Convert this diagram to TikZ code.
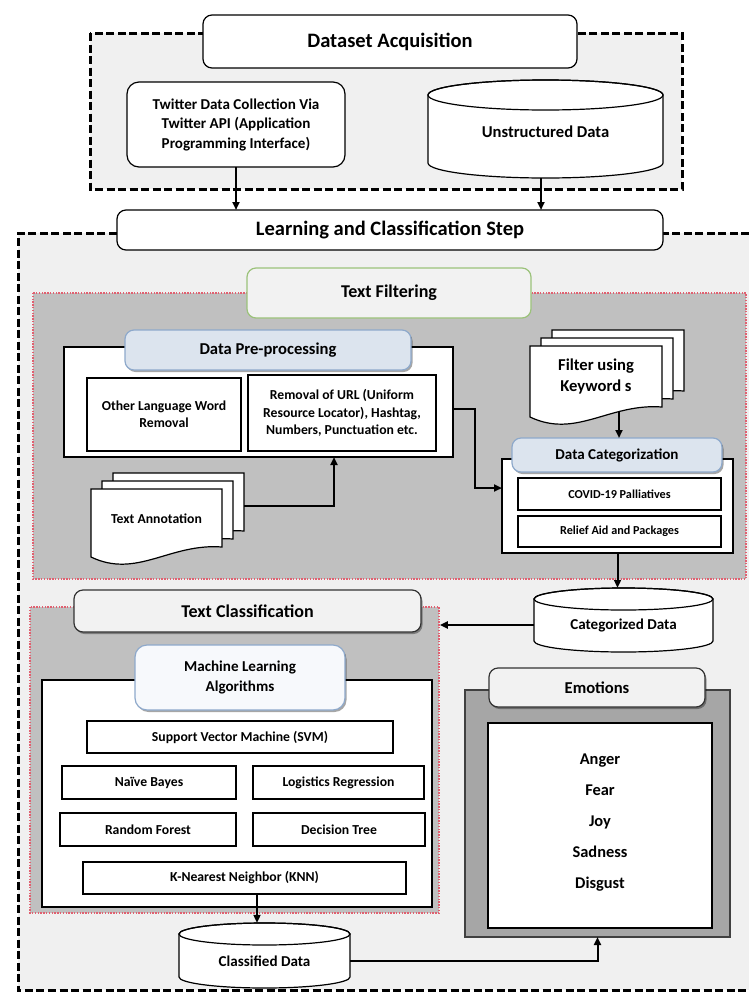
\documentclass[tikz,border=0pt]{standalone}
\usepackage{fontspec}
\setmainfont{Carlito}
\usetikzlibrary{arrows.meta,shadows}
\definecolor{lightbg}{HTML}{F0F0F0}
\definecolor{midgray}{HTML}{C0C0C0}
\definecolor{emogray}{HTML}{A6A6A6}
\definecolor{titlefill}{HTML}{F2F2F2}
\definecolor{bluefill}{HTML}{DCE4EE}
\definecolor{mlfill}{HTML}{F7F9FC}
\definecolor{blueline}{HTML}{8EA9CB}
\definecolor{greenline}{HTML}{9BC27A}
\definecolor{reddot}{HTML}{E06070}
\newcommand\cylshape[5]{%
  \filldraw[fill=white,draw=black,line width=1.2pt]
    (#1,#2+#5) -- (#1,#4-#5) arc[start angle=180,end angle=0,x radius={(#3-#1)/2},y radius=#5]
    -- (#3,#2+#5) arc[start angle=0,end angle=-180,x radius={(#3-#1)/2},y radius=#5] -- cycle;
  \draw[line width=1.2pt] ({(#1+#3)/2},#2+#5) ellipse[x radius={(#3-#1)/2},y radius=#5];
}
\newcommand\docshape[4]{%
  \filldraw[fill=white,draw=black,line width=1.2pt]
   (#1,#2) -- (#1+#3,#2) -- (#1+#3,#2+#4-10) .. controls (#1+0.6*#3,#2+#4-14) and (#1+0.35*#3,#2+#4+22) .. (#1,#2+#4) -- cycle;
}
\begin{document}
\begin{tikzpicture}[x=1pt,y=-1pt,
  fa/.style={font=\fontsize{20.5}{24}\selectfont\bfseries},
  fb/.style={font=\fontsize{18}{22}\selectfont\bfseries},
  fc/.style={font=\fontsize{16.6}{21}\selectfont\bfseries},
  fd/.style={font=\fontsize{15.1}{19.5}\selectfont\bfseries},
  fe/.style={font=\fontsize{13.7}{17.2}\selectfont\bfseries},
  ff/.style={font=\fontsize{12.2}{15}\selectfont\bfseries},
  femo/.style={font=\fontsize{16.4}{31}\selectfont\bfseries},
  plain/.style={draw=black,line width=1.2pt,fill=white,inner sep=0pt,outer sep=0pt,align=center},
  rtitle/.style={plain,rounded corners=9pt},
  shad/.style={drop shadow={shadow xshift=1.5pt,shadow yshift=-2pt,opacity=0.35,fill=black}},
  dashline/.style={line width=3pt,dash pattern=on 8pt off 3.5pt},
  dotline/.style={draw=reddot,line width=1.4pt,dash pattern=on 1.4pt off 1.4pt},
  conn/.style={line width=2pt,-{Triangle[length=8pt,width=7pt]}},
]
\useasboundingbox (0,0) rectangle (749,994);
\fill[white] (0,0) rectangle (749,994);
% big learning region
\fill[lightbg] (18,233) rectangle (749,990);
\draw[dashline] (749,233) -- (18,233) -- (18,990) -- (749,990);
% dataset acquisition region
\filldraw[fill=lightbg,dashline] (90,33) rectangle (682,189);
\node[rtitle,fa,minimum width=374pt,minimum height=53pt] (dsa) at (390,41.5) {Dataset Acquisition};
\node[rtitle,fd,rounded corners=12pt,minimum width=218pt,minimum height=85pt] (tw) at (236,124.5) {Twitter Data Collection Via\\Twitter API (Application\\Programming Interface)};
\cylshape{428}{80}{663}{178}{15}
\node[fc,inner sep=0pt,minimum width=235pt,minimum height=104pt] (ud) at (545.5,132) {Unstructured Data};
\node[rtitle,fa,minimum width=546pt,minimum height=40pt] (lcs) at (390,230) {Learning and Classification Step};
\draw[conn] (tw.south) -- (tw.south |- lcs.north);
\coordinate (udb) at (541,178);
\draw[conn] (udb) -- (udb |- lcs.north);
% text filtering region
\filldraw[fill=midgray,dotline] (33,293) rectangle (746,579);
\node[rtitle,fb,fill=titlefill,draw=greenline,minimum width=284pt,minimum height=50pt] (tf) at (389,293) {Text Filtering};
\node[plain,minimum width=389pt,minimum height=110pt] (dpo) at (258.5,402) {};
\node[rtitle,shad,fc,fill=bluefill,draw=blueline,minimum width=286pt,minimum height=40pt] (dpt) at (268,350) {Data Pre-processing};
\node[plain,fe,minimum width=154pt,minimum height=73pt] (olw) at (164,414.5) {Other Language Word\\Removal};
\node[plain,fe,minimum width=188pt,minimum height=76pt] (rem) at (342,413) {Removal of URL (Uniform\\Resource Locator), Hashtag,\\Numbers, Punctuation etc.};
% filter docs
\docshape{552}{330}{132}{71}
\docshape{541}{338}{132}{71}
\docshape{530}{346}{132}{71}
\node[fc,align=center] (fk) at (596,376.5) {Filter using\\Keyword s};
% data categorization
\node[plain,minimum width=231pt,minimum height=94pt] (dco) at (617.5,506) {};
\node[rtitle,shad,fd,fill=bluefill,draw=blueline,minimum width=210pt,minimum height=34pt] (dct) at (617,455) {Data Categorization};
\node[plain,ff,minimum width=203pt,minimum height=32pt] (cov) at (619.5,494) {COVID-19 Palliatives};
\node[plain,ff,minimum width=203pt,minimum height=31pt] (rel) at (619.5,531.5) {Relief Aid and Packages};
% text annotation docs
\docshape{113}{473}{131}{68}
\docshape{102}{481}{131}{68}
\docshape{91}{489}{131}{68}
\node[fe] (ta) at (156.5,519) {Text Annotation};
% arrows in filtering
\coordinate (fkb) at (619,412);
\draw[conn] (fkb) -- (fkb |- dct.north);
\coordinate (dpR) at (453,409);
\coordinate (dcin) at (502,488);
\draw[conn] (dpR) -- ++(22,0) |- (dcin);
\coordinate (taR) at (244,506);
\coordinate (dpIn) at (334,457);
\draw[conn] (taR) -| (dpIn);
% text classification region
\filldraw[fill=midgray,dotline] (30,607) rectangle (439,913);
\node[rtitle,shad,fb,fill=titlefill,draw=black!80,minimum width=347pt,minimum height=42pt] (tct) at (247.5,611) {Text Classification};
\cylshape{534}{588}{713}{652}{11}
\node[fd,inner sep=0pt,minimum width=179pt,minimum height=74pt] (cat) at (623.5,625) {Categorized Data};
\draw[conn] (dco.south) -- (dco.south |- cat.north);
\draw[conn] (cat.west) -- ++(-94,0);
% machine learning
\node[plain,minimum width=390pt,minimum height=227pt] (mlo) at (237,793.5) {};
\node[rtitle,shad,fd,rounded corners=12pt,fill=mlfill,draw=blueline,minimum width=210pt,minimum height=65pt] (mlt) at (240,677.5) {Machine Learning\\Algorithms};
\node[plain,fe,minimum width=306pt,minimum height=32pt] (svm) at (240,737) {Support Vector Machine (SVM)};
\node[plain,fe,minimum width=174pt,minimum height=33pt] (nb) at (149,782.5) {Naïve Bayes};
\node[plain,fe,minimum width=171pt,minimum height=33pt] (lr) at (338.5,782.5) {Logistics Regression};
\node[plain,fe,minimum width=176pt,minimum height=33pt] (rf) at (148,829.5) {Random Forest};
\node[plain,fe,minimum width=172pt,minimum height=33pt] (dt) at (339,829.5) {Decision Tree};
\node[plain,fe,minimum width=323pt,minimum height=32pt] (knn) at (244.5,878) {K-Nearest Neighbor (KNN)};
% classified data
\cylshape{179}{923}{350}{988}{11}
\node[fd,inner sep=0pt,minimum width=171pt,minimum height=76pt] (cls) at (264.5,961) {Classified Data};
\coordinate (kb) at (257,894);
\draw[conn] (kb) -- (kb |- cls.north);
% emotions
\node[plain,fill=emogray,draw=black!75,minimum width=265pt,minimum height=247pt] (emo) at (597.5,813.5) {};
\node[rtitle,shad,fc,fill=titlefill,draw=black!80,minimum width=216pt,minimum height=39pt] (emt) at (597,687.5) {Emotions};
\node[plain,minimum width=224pt,minimum height=205pt] (emi) at (600,825.5) {};
\node[femo,align=center] (emw) at (600,823) {Anger\\Fear\\Joy\\Sadness\\Disgust};
\draw[conn] (cls.east) -| (emo.south);
\end{tikzpicture}
\end{document}
